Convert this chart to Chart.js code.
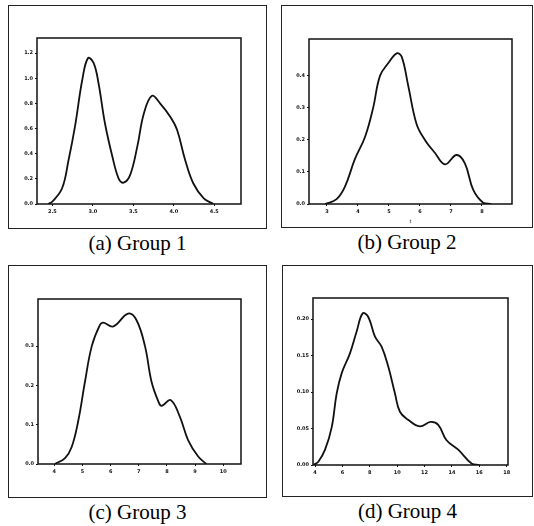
<!DOCTYPE html>
<html>
<head>
<meta charset="utf-8">
<script src="https://cdn.jsdelivr.net/npm/chart.js@4"></script>
<style>
    body { margin: 0; background: #fff; width: 534px; height: 526px; position: relative; overflow: hidden; }
    .frame { position: absolute; border: 1px solid #222; box-sizing: border-box; }
    canvas { position: absolute; }
    .caption { position: absolute; text-align: center; font-family: "Liberation Serif", serif; font-size: 21px; line-height: 22px; color: #000; }
</style>
</head>
<body>
<script>
// ===== DATOS =====
const g1X = [2.45, 2.5, 2.62, 2.70, 2.78, 2.87, 2.94, 3.01, 3.07, 3.15, 3.24, 3.32, 3.38, 3.46, 3.55, 3.63, 3.73, 3.83, 3.96, 4.04, 4.14, 4.24, 4.37, 4.49];
const g1Y = [0, 0.02, 0.125, 0.35, 0.62, 0.99, 1.16, 1.12, 0.96, 0.64, 0.38, 0.20, 0.17, 0.23, 0.46, 0.72, 0.86, 0.80, 0.69, 0.59, 0.35, 0.165, 0.045, 0];

const g2X = [2.94, 3.31, 3.58, 3.90, 4.23, 4.49, 4.71, 4.98, 5.25, 5.41, 5.62, 5.89, 6.16, 6.48, 6.81, 7.18, 7.45, 7.72, 8.04, 8.3];
const g2Y = [0, 0.015, 0.054, 0.14, 0.21, 0.30, 0.40, 0.44, 0.47, 0.46, 0.37, 0.25, 0.20, 0.16, 0.124, 0.153, 0.127, 0.044, 0.004, 0];

const g3X = [4.02, 4.38, 4.62, 4.85, 5.09, 5.33, 5.62, 5.74, 6.09, 6.62, 6.92, 7.22, 7.45, 7.69, 7.81, 8.13, 8.46, 8.75, 9.11, 9.40];
const g3Y = [0, 0.015, 0.044, 0.11, 0.21, 0.30, 0.354, 0.36, 0.35, 0.383, 0.366, 0.30, 0.21, 0.16, 0.148, 0.163, 0.12, 0.061, 0.019, 0];

const g4X = [3.88, 4.24, 4.73, 5.22, 5.58, 5.95, 6.55, 7.04, 7.48, 7.89, 8.38, 8.87, 9.35, 9.84, 10.2, 10.8, 11.66, 12.45, 13.0, 13.61, 14.46, 15.44, 16.0];
const g4Y = [0, 0.0045, 0.021, 0.052, 0.098, 0.126, 0.153, 0.183, 0.208, 0.203, 0.176, 0.162, 0.135, 0.098, 0.073, 0.062, 0.053, 0.059, 0.055, 0.034, 0.021, 0.002, 0];

// ticks
const xTicks1 = [2.5, 3.0, 3.5, 4.0, 4.5];
const yTicks1 = [0, 0.2, 0.4, 0.6, 0.8, 1.0, 1.2];
const xTicks2 = [3, 4, 5, 6, 7, 8];
const yTicks2 = [0, 0.1, 0.2, 0.3, 0.4];
const xTicks3 = [4, 5, 6, 7, 8, 9, 10];
const yTicks3 = [0, 0.1, 0.2, 0.3];
const xTicks4 = [4, 6, 8, 10, 12, 14, 16, 18];
const yTicks4 = [0, 0.05, 0.10, 0.15, 0.20];

const captions = ['(a) Group 1', '(b) Group 2', '(c) Group 3', '(d) Group 4'];

// ===== PANELES =====
// frame / box: [left, top, right, bottom] en px de la página
const panels = [
    { frame: [8, 5, 267, 229],   box: [37, 38, 241, 204],  xs: g1X, ys: g1Y, xt: xTicks1, yt: yTicks1, xr: [2.31, 4.83], yr: [0, 1.32],  xd: 1, yd: 1, title: '' },
    { frame: [281, 5, 533, 228], box: [309, 39, 512, 204], xs: g2X, ys: g2Y, xt: xTicks2, yt: yTicks2, xr: [2.42, 8.97], yr: [0, 0.515], xd: 0, yd: 1, title: 't' },
    { frame: [8, 265, 267, 498], box: [38, 299, 241, 464], xs: g3X, ys: g3Y, xt: xTicks3, yt: yTicks3, xr: [3.42, 10.63], yr: [0, 0.42], xd: 0, yd: 1, title: '' },
    { frame: [282, 265, 533, 497], box: [313, 298, 508, 465], xs: g4X, ys: g4Y, xt: xTicks4, yt: yTicks4, xr: [3.85, 18.1], yr: [0, 0.229], xd: 0, yd: 2, title: '' },
];

// borde completo del área de trazado
const boxPlugin = {
    id: 'boxFrame',
    afterDraw(chart) {
        const { ctx, chartArea: a } = chart;
        ctx.save();
        ctx.strokeStyle = '#111';
        ctx.lineWidth = 1.5;
        ctx.strokeRect(a.left, a.top, a.right - a.left, a.bottom - a.top);
        ctx.restore();
    }
};

const tickFont = { family: 'DejaVu Sans', size: 5, weight: 'bold' };

panels.forEach((p, i) => {
    const [fl, ft, fr, fb] = p.frame;
    const [bl, bt, br, bb] = p.box;
    const W = 22;
    const H = p.title ? 22 : 14;

    const frame = document.createElement('div');
    frame.className = 'frame';
    Object.assign(frame.style, { left: fl + 'px', top: ft + 'px', width: (fr - fl) + 'px', height: (fb - ft) + 'px' });
    document.body.appendChild(frame);

    const canvas = document.createElement('canvas');
    canvas.width = fr - fl;
    canvas.height = fb - ft;
    Object.assign(canvas.style, { left: fl + 'px', top: ft + 'px' });
    document.body.appendChild(canvas);

    const cap = document.createElement('div');
    cap.className = 'caption';
    cap.textContent = captions[i];
    Object.assign(cap.style, { left: fl + 'px', width: (fr - fl) + 'px', top: (fb + 3) + 'px' });
    document.body.appendChild(cap);

    new Chart(canvas.getContext('2d'), {
        type: 'line',
        data: {
            datasets: [{
                data: p.xs.map((x, k) => ({ x, y: p.ys[k] })),
                borderColor: '#111',
                borderWidth: 1.8,
                pointRadius: 0,
                fill: false,
                tension: 0.4,
            }]
        },
        options: {
            responsive: false,
            animation: false,
            devicePixelRatio: 1,
            layout: {
                padding: { left: bl - fl - W, top: bt - ft, right: fr - br, bottom: fb - bb - H }
            },
            plugins: { legend: { display: false }, tooltip: { enabled: false } },
            scales: {
                x: {
                    type: 'linear',
                    min: p.xr[0], max: p.xr[1],
                    afterBuildTicks: s => { s.ticks = p.xt.map(v => ({ value: v })); },
                    afterFit: s => { s.height = H; },
                    grid: { drawOnChartArea: false, drawTicks: true, tickLength: 2, color: '#111' },
                    border: { display: false },
                    ticks: { font: tickFont, color: '#111', padding: 3, maxRotation: 0,
                        callback: v => Number(v).toFixed(p.xd) },
                    title: { display: !!p.title, text: p.title, font: { family: 'DejaVu Sans', size: 5 }, color: '#111', padding: 1 }
                },
                y: {
                    min: p.yr[0], max: p.yr[1],
                    afterBuildTicks: s => { s.ticks = p.yt.map(v => ({ value: v })); },
                    afterFit: s => { s.width = W; },
                    grid: { drawOnChartArea: false, drawTicks: true, tickLength: 2, color: '#111' },
                    border: { display: false },
                    ticks: { font: tickFont, color: '#111', padding: 2,
                        callback: v => Number(v).toFixed(p.yd) }
                }
            }
        },
        plugins: [boxPlugin]
    });
});
</script>
</body>
</html>
